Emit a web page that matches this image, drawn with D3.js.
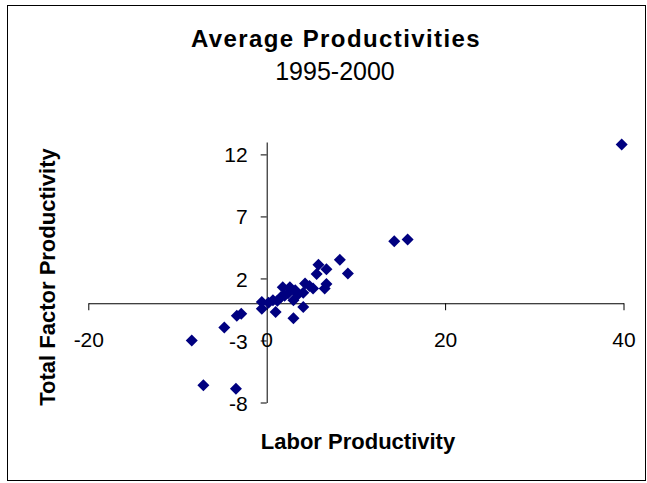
<!DOCTYPE html>
<html>
<head>
<meta charset="utf-8">
<script src="https://cdn.jsdelivr.net/npm/d3@7/dist/d3.min.js"></script>
<style>
  html, body { margin: 0; padding: 0; background: #fff; }
  svg { display: block; font-family: "Liberation Sans", Arial, sans-serif; }
</style>
</head>
<body>
<svg id="chart" width="647" height="483"></svg>
<script>
// Average labour productivity vs. total factor productivity, 1995-2000
const laborProductivity = [
  39.8, 14.3, 15.8, 8.2, 9.1, 5.8, 6.7, 5.6, 6.7, 6.5,
  4.3, 5.2, 4.8, 4.1, 4.1, 3.0, 1.8, 2.6, 3.2, 2.4,
  3.0, 1.6, 0.7, 0.2, 1.0, -0.55, -0.55, -2.85, -3.35, -4.75,
  -8.4, -7.1, -3.45, 2.0, 3.5, 1.2
];
const totalFactorProductivity = [
  12.8, 5.0, 5.15, 3.5, 2.4, 3.1, 2.75, 2.35, 1.55, 1.2,
  1.6, 1.2, 1.4, 0.85, -0.3, -1.2, 1.3, 1.3, 1.05, 0.8,
  0.25, 0.5, 0.25, 0.05, -0.7, 0.1, -0.45, -0.85, -1.0, -1.95,
  -3.0, -6.6, -6.9, 0.6, 0.7, 0.2
];
const xTicks = [-20, 0, 20, 40];
const yTicks = [-8, -3, 2, 7, 12];
const xDomain = [-20, 40];
const yDomain = [-8, 13];

const svg = d3.select("#chart");

// outer frame
svg.append("rect")
  .attr("x", 7.5).attr("y", 5.5)
  .attr("width", 638).attr("height", 475)
  .attr("fill", "#fff").attr("stroke", "#000").attr("stroke-width", 1);

const x = d3.scaleLinear().domain(xDomain).range([88.3, 623.5]);
const y = d3.scaleLinear().domain(yDomain).range([402.5, 142]);
const plainNumber = d => String(d);

// horizontal axis crosses at TFP = 0
const xAxis = svg.append("g")
  .attr("transform", `translate(0,${y(0)})`)
  .call(d3.axisBottom(x).tickValues(xTicks).tickSize(7).tickSizeOuter(0).tickFormat(plainNumber));
xAxis.select(".domain").attr("stroke", "#000");
xAxis.selectAll(".tick line").attr("stroke", "#000");
xAxis.selectAll(".tick text")
  .attr("y", 0).attr("dy", null)
  .attr("transform", `translate(0,${347 - y(0)})`)
  .attr("fill", "#000")
  .style("font-size", "21px");

// vertical axis crosses at LP = 0
const yAxis = svg.append("g")
  .attr("transform", `translate(${x(0)},0)`)
  .call(d3.axisLeft(y).tickValues(yTicks).tickSize(6).tickSizeOuter(0).tickFormat(plainNumber));
yAxis.select(".domain").attr("stroke", "#000");
yAxis.selectAll(".tick line").attr("stroke", "#000");
yAxis.selectAll(".tick text")
  .attr("x", -19).attr("dy", "0.36em")
  .attr("fill", "#000")
  .style("font-size", "21px");

// points
const pts = laborProductivity.map((v, i) => ({ lp: v, tfp: totalFactorProductivity[i] }));
const diamond = d3.symbol().type(d3.symbolSquare).size(72);
svg.append("g")
  .selectAll("path")
  .data(pts)
  .join("path")
  .attr("d", diamond)
  .attr("transform", d => `translate(${x(d.lp)},${y(d.tfp)}) rotate(45)`)
  .attr("fill", "#000080");

// titles
svg.append("text")
  .attr("x", 336).attr("y", 46.5)
  .attr("text-anchor", "middle")
  .style("font-size", "24px").style("font-weight", "bold")
  .style("letter-spacing", "1.4px")
  .text("Average Productivities");
svg.append("text")
  .attr("x", 335).attr("y", 80)
  .attr("text-anchor", "middle")
  .style("font-size", "25px")
  .text("1995-2000");
svg.append("text")
  .attr("x", 358).attr("y", 449)
  .attr("text-anchor", "middle")
  .style("font-size", "22px").style("font-weight", "bold")
  .text("Labor Productivity");
svg.append("text")
  .attr("transform", "translate(55,277) rotate(-90)")
  .attr("text-anchor", "middle")
  .style("font-size", "22px").style("font-weight", "bold")
  .text("Total Factor Productivity");
</script>
</body>
</html>
